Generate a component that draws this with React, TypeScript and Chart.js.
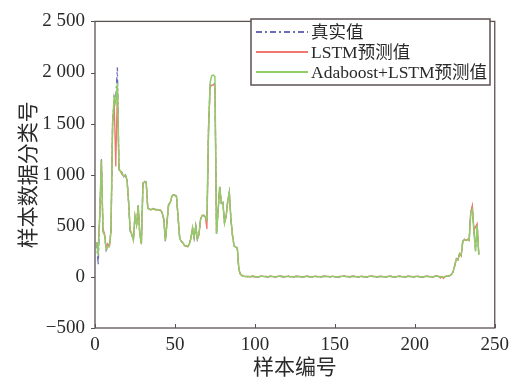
import React, { useEffect, useRef } from "react";
import { Chart, registerables } from "chart.js";

Chart.register(...registerables);

const seriesLabels = ["真实值", "LSTM预测值", "Adaboost+LSTM预测值"];
const xAxisTitle = "样本编号";
const yAxisTitle = "样本数据分类号";
const xTickValues = [0, 50, 100, 150, 200, 250];
const yTickValues = [-500, 0, 500, 1000, 1500, 2000, 2500];
const yTickLabels = ["−500", "0", "500", "1 000", "1 500", "2 000", "2 500"];

// sample index 1..240
const trueValues = [
  340, 120, 620, 1150, 450, 410, 260, 290, 310, 440,
  1500, 1770, 1750, 2050, 1050, 1040, 1020, 980, 1000, 960,
  730, 450, 410, 370, 590, 520, 700, 420, 330, 920,
  930, 930, 670, 660, 660, 665, 660, 660, 658, 655,
  650, 630, 560, 350, 520, 700, 720, 790, 800, 800,
  790, 570, 370, 350, 330, 310, 300, 300, 320, 380,
  475, 380, 500, 370, 420, 560, 605, 600, 590, 540,
  1450, 1880, 1890, 1895, 1890, 420, 650, 890, 720, 730,
  520, 600, 740, 830, 560, 400, 300, 295, 280, 65,
  25, 12, 6, 5, 3, 2, 0, 4, 6, 2,
  0, -2, 3, 5, 8, 4, 2, 0, 3, 6,
  4, 1, -1, 2, 5, 7, 3, 0, 2, 4,
  6, 3, 1, 0, 2, 5, 4, 2, 0, -1,
  2, 4, 6, 3, 1, 0, 3, 5, 2, 1,
  0, 2, 4, 6, 4, 2, 1, 3, 5, 3,
  0, -2, 1, 3, 5, 8, 4, 2, 0, 2,
  4, 6, 3, 1, 0, 2, 4, 3, 1, 0,
  2, 5, 7, 4, 2, 0, 1, 3, 5, 2,
  0, -1, 2, 4, 6, 3, 1, 0, 2, 4,
  5, 3, 1, 0, 3, 6, 4, 2, 0, 1,
  3, 5, 2, 0, -2, 1, 4, 6, 3, 1,
  0, 2, 5, 8, 6, 3, 1, -3, 2, 5,
  8, 12, 22, 50, 110, 175, 170, 225, 210, 350,
  365, 360, 365, 360, 630, 685, 450, 260, 510, 220,
];

const lstmValues = [
  330, 300, 600, 1130, 470, 420, 280, 325, 300, 450,
  1480, 1700, 1080, 1850, 1060, 1030, 1000, 990, 985, 950,
  740, 460, 420, 360, 600, 510, 690, 430, 320, 910,
  935, 925, 680, 665, 655, 670, 665, 655, 660, 650,
  655, 625, 570, 360, 530, 710, 730, 780, 805, 795,
  780, 580, 380, 345, 335, 305, 305, 295, 325, 375,
  480, 390, 490, 375, 410, 565, 600, 605, 585, 470,
  1420, 1860, 1875, 1880, 1875, 430, 640, 880, 730, 720,
  530, 590, 735, 820, 570, 410, 305, 290, 285, 70,
  30, 15, 8, 3, 6, 4, -2, 7, 8, 0,
  3, -5, 6, 8, 5, 2, 5, -3, 6, 9,
  2, 4, -4, 5, 8, 4, 6, -3, 5, 2,
  9, 1, 4, -3, 5, 8, 2, 5, -3, 2,
  -1, 7, 9, 1, 4, -3, 6, 8, 0, 4,
  -3, 5, 7, 9, 2, 5, -2, 6, 8, 1,
  3, -5, 4, 6, 8, 11, 2, 5, -3, 5,
  7, 9, 1, 4, -3, 5, 7, 1, 4, -3,
  5, 8, 10, 2, 5, -3, 4, 6, 8, 0,
  3, -4, 5, 7, 9, 1, 4, -3, 5, 7,
  8, 1, 4, -3, 6, 9, 2, 5, -3, 4,
  6, 8, 0, 3, -5, 4, 7, 9, 1, 4,
  -3, 5, 8, 11, 3, -12, 4, -15, 5, 8,
  11, 15, 25, 55, 115, 180, 165, 230, 205, 345,
  370, 355, 370, 355, 640, 700, 450, 490, 520, 225,
];

const adaboostValues = [
  340, 210, 610, 1140, 440, 405, 270, 290, 305, 445,
  1510, 1760, 1700, 1900, 1045, 1035, 1015, 985, 995, 955,
  735, 445, 415, 365, 595, 515, 695, 425, 325, 915,
  930, 928, 672, 662, 658, 664, 662, 658, 656, 652,
  652, 628, 565, 355, 525, 705, 722, 788, 802, 798,
  785, 575, 375, 348, 332, 308, 302, 298, 322, 378,
  478, 385, 495, 372, 415, 562, 602, 602, 588, 560,
  1460, 1900, 1970, 1975, 1960, 420, 655, 885, 725, 728,
  525, 595, 738, 828, 565, 405, 302, 292, 282, 66,
  26, 13, 7, 4, 4, 3, 1, 5, 5, 3,
  1, -1, 4, 6, 7, 3, 3, 1, 4, 5,
  3, 2, 0, 3, 6, 6, 4, 1, 3, 3,
  5, 2, 2, 1, 3, 6, 3, 3, 1, 0,
  3, 5, 5, 2, 2, 1, 4, 4, 3, 2,
  1, 3, 5, 5, 3, 3, 2, 4, 4, 2,
  1, -1, 2, 4, 6, 7, 3, 3, 1, 3,
  5, 5, 2, 2, 1, 3, 5, 2, 2, 1,
  3, 6, 6, 3, 3, 1, 2, 4, 4, 1,
  1, 0, 3, 5, 5, 2, 2, 1, 3, 5,
  4, 2, 2, 1, 4, 5, 3, 3, 1, 2,
  4, 4, 1, 1, -1, 2, 5, 5, 2, 2,
  1, 3, 6, 7, 5, 2, 2, -2, 3, 6,
  9, 13, 24, 52, 112, 172, 168, 222, 212, 352,
  362, 362, 362, 362, 625, 660, 440, 250, 505, 215,
];

const seriesColors = ["#6b6bb8", "#f0786e", "#92cc68"];
const FRAME = "#5c5252";
const SERIF = '"Liberation Serif", "Times New Roman", "Noto Sans CJK SC", serif';
const CJK = '"Noto Sans CJK SC", "Noto Sans CJK JP", sans-serif';

const toPoints = (arr: number[]) => arr.map((v, i) => ({ x: i + 1, y: v }));

const decorPlugin = {
  id: "decor",
  afterDraw(chart: any) {
    const { ctx, chartArea, scales } = chart;
    const { left, right, top, bottom } = chartArea;
    ctx.save();
    // frame
    ctx.strokeStyle = FRAME;
    ctx.lineWidth = 1.3;
    ctx.strokeRect(left, top, right - left, bottom - top);
    // x ticks (inward)
    ctx.lineWidth = 1;
    xTickValues.forEach((v) => {
      const px = Math.round(scales.x.getPixelForValue(v)) + 0.5;
      ctx.beginPath();
      ctx.moveTo(px, bottom);
      ctx.lineTo(px, bottom - 4);
      ctx.stroke();
    });
    // y ticks (outward)
    yTickValues.forEach((v) => {
      const py = Math.round(scales.y.getPixelForValue(v)) + 0.5;
      ctx.beginPath();
      ctx.moveTo(left, py);
      ctx.lineTo(left - 4, py);
      ctx.stroke();
    });
    // axis titles
    ctx.fillStyle = "#2a2a2a";
    ctx.font = `21px ${CJK}`;
    ctx.textAlign = "center";
    ctx.textBaseline = "middle";
    ctx.fillText(xAxisTitle, (left + right) / 2, 366);
    ctx.save();
    ctx.translate(27, (top + bottom) / 2);
    ctx.rotate(-Math.PI / 2);
    ctx.fillText(yAxisTitle, 0, 0);
    ctx.restore();
    // legend
    const bx = 251, by = 19, bw = 239, bh = 66;
    ctx.fillStyle = "#ffffff";
    ctx.fillRect(bx, by, bw, bh);
    ctx.strokeStyle = FRAME;
    ctx.lineWidth = 1.5;
    ctx.strokeRect(bx, by, bw, bh);
    const rows = [32, 52, 72];
    chart.data.datasets.forEach((ds: any, i: number) => {
      ctx.save();
      ctx.strokeStyle = ds.borderColor;
      ctx.lineWidth = 1.8;
      ctx.setLineDash(ds.borderDash || []);
      ctx.beginPath();
      ctx.moveTo(256, rows[i]);
      ctx.lineTo(308, rows[i]);
      ctx.stroke();
      ctx.restore();
      ctx.fillStyle = "#2a2a2a";
      ctx.font = `17.5px ${SERIF}`;
      ctx.textAlign = "left";
      ctx.textBaseline = "middle";
      ctx.fillText(ds.label, 311, rows[i] + 1);
    });
    ctx.restore();
  },
};

export default function App() {
  const canvasRef = useRef<HTMLCanvasElement | null>(null);

  useEffect(() => {
    if (!canvasRef.current) return;
    const chart = new Chart(canvasRef.current, {
      type: "line",
      data: {
        datasets: [
          {
            label: seriesLabels[0],
            data: toPoints(trueValues),
            borderColor: seriesColors[0],
            borderWidth: 1.3,
            borderDash: [6, 3, 2, 3],
            pointRadius: 0,
            tension: 0,
            order: 2,
          },
          {
            label: seriesLabels[1],
            data: toPoints(lstmValues),
            borderColor: seriesColors[1],
            borderWidth: 1.3,
            pointRadius: 0,
            tension: 0,
            order: 1,
          },
          {
            label: seriesLabels[2],
            data: toPoints(adaboostValues),
            borderColor: seriesColors[2],
            borderWidth: 1.5,
            pointRadius: 0,
            tension: 0,
            order: 0,
          },
        ],
      },
      options: {
        responsive: false,
        animation: false,
        devicePixelRatio: 1,
        layout: { padding: { top: 14, right: 20, left: 0, bottom: 0 } },
        plugins: { legend: { display: false }, tooltip: { enabled: false } },
        scales: {
          x: {
            type: "linear",
            min: 0,
            max: 250,
            afterFit: (s: any) => {
              s.height = 52;
            },
            afterBuildTicks: (s: any) => {
              s.ticks = xTickValues.map((v) => ({ value: v }));
            },
            grid: { display: false, drawTicks: false },
            border: { display: false },
            ticks: {
              padding: 6,
              color: "#2a2a2a",
              font: { family: SERIF, size: 19 },
              maxRotation: 0,
              callback: (v: any) => String(v),
            },
          },
          y: {
            type: "linear",
            min: -500,
            max: 2500,
            afterFit: (s: any) => {
              s.width = 95;
            },
            afterBuildTicks: (s: any) => {
              s.ticks = yTickValues.map((v) => ({ value: v }));
            },
            grid: { display: false, drawTicks: false },
            border: { display: false },
            ticks: {
              padding: 10,
              color: "#2a2a2a",
              font: { family: SERIF, size: 19 },
              callback: (v: any) => {
                const idx = yTickValues.indexOf(Number(v));
                return idx >= 0 ? yTickLabels[idx] : "";
              },
            },
          },
        },
      },
      plugins: [decorPlugin],
    } as any);
    return () => chart.destroy();
  }, []);

  return (
    <div style={{ position: "fixed", left: 0, top: 0, width: 515, height: 380, background: "#fff" }}>
      <canvas ref={canvasRef} width={515} height={380} style={{ display: "block" }} />
    </div>
  );
}
